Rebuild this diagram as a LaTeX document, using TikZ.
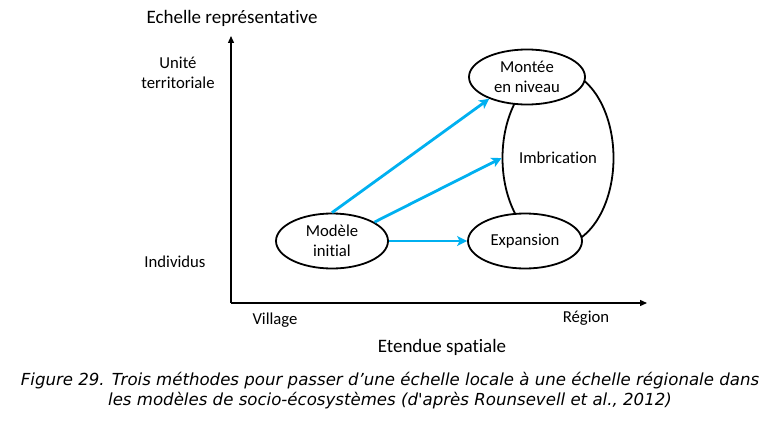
\documentclass[tikz,border=0pt]{standalone}
\usepackage{fontspec}
\setmainfont{Carlito}[Ligatures={NoCommon}]
\newfontfamily\capfont{DejaVu Sans}
\usetikzlibrary{shapes.geometric,arrows.meta}
\definecolor{arrowblue}{HTML}{00B0F0}
\tikzset{
  lbl/.style={font=\fontsize{16.7}{20.5}\selectfont, align=center, inner sep=0pt},
  ttl/.style={font=\fontsize{19}{23}\selectfont, align=center, inner sep=0pt},
  oval/.style={ellipse, draw=black, line width=1.8pt, fill=white, minimum width=112pt, minimum height=55pt, inner sep=0pt, lbl},
  axis/.style={line width=1.3pt, -{Triangle[length=7pt,width=6pt]}},
  flow/.style={draw=arrowblue, line width=2.8pt, -{Stealth[length=10pt,width=10pt,inset=2.5pt]}},
}
\begin{document}
\begin{tikzpicture}[x=1pt,y=-1pt]
\useasboundingbox (0,0) rectangle (773,420);
% axes
\coordinate (O) at (231,303);
\coordinate (Ytop) at (231,36);
\coordinate (Xend) at (647,303);
\draw[axis] (O) -- (Ytop);
\draw[axis] (O) -- (Xend);
% axis labels
\node[ttl] (ytitle) at (232,18) {Echelle représentative};
\node[lbl] (unite) at (178,73) {Unité\\territoriale};
\node[lbl] (indiv) at (175,262) {Individus};
\node[lbl] (village) at (275,320) {Village};
\node[lbl] (region) at (586,318) {Région};
\node[ttl] (xtitle) at (442,347) {Etendue spatiale};
% imbrication ellipse (behind)
\node[ellipse, draw=black, line width=1.8pt, minimum width=111pt, minimum height=175pt, inner sep=0pt, lbl] (imb) at (558,158) {Imbrication};
% main ellipses
\node[oval, minimum width=116pt] (mon) at (527,77) {Montée\\en niveau};
\node[oval] (mod) at (332,241) {Modèle\\initial};
\node[oval, minimum width=114pt] (exp) at (525,241) {Expansion};
% arrows
\draw[flow] (mod.north) -- (mon.210);
\draw[flow] (mod.24) -- (imb.west);
\draw[flow] (mod.east) -- (exp.west);
% caption
\node[inner sep=0pt, align=center, font=\capfont\itshape\fontsize{16.6}{20}\selectfont] (cap) at (390,391) {Figure 29. Trois méthodes pour passer d’une échelle locale à une échelle régionale dans\\les modèles de socio-écosystèmes (d'après Rounsevell et al., 2012)};
\end{tikzpicture}
\end{document}
